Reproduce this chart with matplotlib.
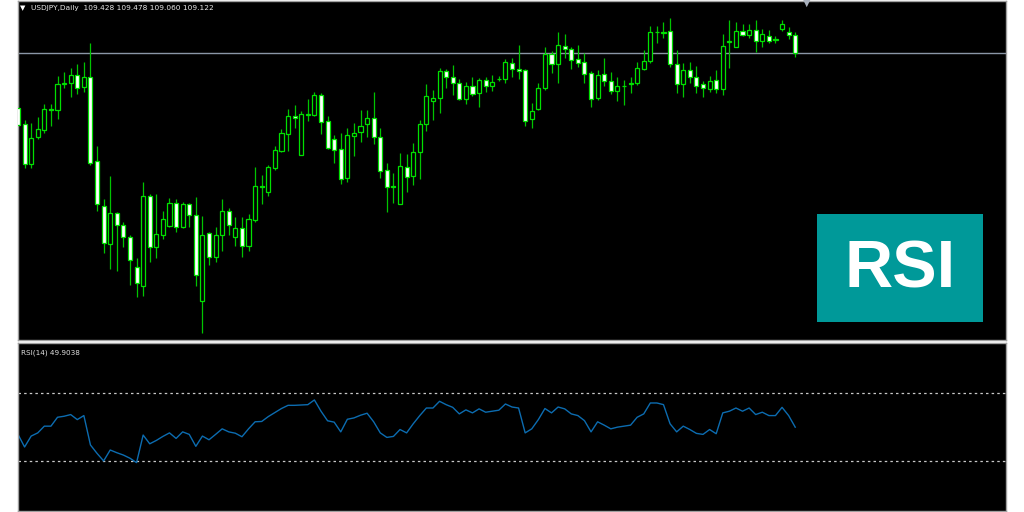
import matplotlib
matplotlib.use("Agg")
import matplotlib.pyplot as plt
from matplotlib.patches import Rectangle

# USDJPY daily candles (oldest -> newest)
opens = [108.21, 107.94, 107.27, 107.73, 107.84, 108.19, 108.17, 108.61, 108.63, 108.76,
         108.56, 108.73, 107.32, 106.57, 105.94, 106.46, 106.26, 106.06, 105.56, 105.25,
         106.74, 105.90, 106.09, 106.24, 106.63, 106.22, 106.61, 106.43, 105.00, 106.13,
         105.72, 106.10, 106.50, 106.06, 106.21, 105.91, 106.34, 106.91, 106.81, 107.21,
         107.50, 107.78, 108.07, 107.43, 108.09, 108.09, 108.43, 107.99, 107.69, 107.52,
         107.04, 107.75, 107.81, 107.94, 108.05, 107.72, 107.17, 106.91, 106.61, 107.23,
         107.07, 107.47, 107.94, 108.32, 108.37, 108.83, 108.73, 108.62, 108.36, 108.58,
         108.46, 108.68, 108.58, 108.69, 108.69, 108.96, 108.86, 108.84, 108.02, 108.19,
         108.54, 109.11, 108.94, 109.25, 109.19, 109.02, 108.97, 108.79, 108.37, 108.77,
         108.66, 108.50, 108.57, 108.61, 108.63, 108.86, 108.99, 109.48, 109.46, 109.49,
         108.94, 108.61, 108.84, 108.73, 108.61, 108.53, 108.67, 108.52, 109.31, 109.22,
         109.49, 109.43, 109.51, 109.33, 109.41, 109.36, 109.52, 109.48, 109.428]
highs = [108.32, 108.01, 107.96, 108.06, 108.27, 108.27, 108.74, 108.81, 108.88, 108.94,
         108.98, 109.29, 107.57, 106.69, 107.08, 106.48, 106.31, 106.09, 105.71, 106.97,
         106.78, 106.78, 106.49, 106.71, 106.69, 106.65, 106.63, 106.73, 106.41, 106.15,
         106.23, 106.69, 106.55, 106.40, 106.39, 106.44, 107.22, 107.10, 107.26, 107.58,
         107.86, 108.19, 108.26, 108.16, 108.36, 108.47, 108.46, 108.08, 107.76, 107.80,
         107.87, 107.96, 108.18, 108.18, 108.47, 107.88, 107.29, 107.12, 107.46, 107.44,
         107.62, 108.01, 108.61, 108.51, 108.88, 108.86, 108.93, 108.69, 108.65, 108.72,
         108.71, 108.73, 108.76, 108.74, 109.02, 109.04, 109.26, 108.86, 108.30, 108.63,
         109.22, 109.16, 109.47, 109.45, 109.23, 109.26, 109.13, 108.83, 108.84, 109.05,
         108.81, 108.72, 108.68, 108.72, 108.97, 109.18, 109.58, 109.58, 109.65, 109.71,
         109.18, 108.96, 108.97, 108.91, 108.66, 108.74, 108.84, 109.44, 109.68, 109.65,
         109.61, 109.61, 109.67, 109.52, 109.51, 109.41, 109.67, 109.56, 109.478]
lows = [107.89, 107.21, 107.21, 107.69, 107.80, 107.91, 108.02, 108.54, 108.40, 108.44,
        108.47, 107.26, 106.50, 105.79, 105.53, 105.50, 105.89, 105.26, 105.06, 105.08,
        105.65, 105.71, 106.02, 106.23, 106.15, 106.21, 106.23, 105.24, 104.46, 105.59,
        105.65, 105.83, 106.10, 105.91, 105.73, 105.83, 106.31, 106.61, 106.74, 107.17,
        107.47, 107.50, 107.88, 107.43, 107.99, 108.07, 107.77, 107.52, 107.30, 106.94,
        106.98, 107.41, 107.64, 107.72, 107.61, 107.04, 106.47, 106.63, 106.61, 106.81,
        106.93, 107.02, 107.83, 108.01, 108.13, 108.55, 108.43, 108.34, 108.27, 108.41,
        108.22, 108.47, 108.49, 108.66, 108.63, 108.72, 108.69, 107.91, 107.87, 108.18,
        108.51, 108.79, 108.62, 109.05, 108.86, 108.90, 108.62, 108.22, 108.34, 108.57,
        108.44, 108.33, 108.26, 108.46, 108.59, 108.84, 108.96, 109.30, 109.37, 108.90,
        108.46, 108.40, 108.62, 108.46, 108.40, 108.48, 108.46, 108.43, 108.88, 109.22,
        109.41, 109.38, 109.15, 109.23, 109.29, 109.30, 109.50, 109.36, 109.060]
closes = [107.93, 107.27, 107.71, 107.86, 108.19, 108.17, 108.61, 108.63, 108.76, 108.55,
          108.73, 107.30, 106.61, 105.96, 106.46, 106.26, 106.06, 105.67, 105.29, 106.74,
          105.90, 106.11, 106.36, 106.63, 106.22, 106.61, 106.43, 105.42, 106.09, 105.72,
          106.10, 106.49, 106.26, 106.21, 105.91, 106.36, 106.91, 106.90, 107.22, 107.51,
          107.79, 108.08, 108.05, 108.11, 108.11, 108.43, 107.97, 107.54, 107.51, 107.03,
          107.76, 107.80, 107.91, 108.05, 107.72, 107.16, 106.89, 106.90, 107.24, 107.06,
          107.47, 107.94, 108.41, 108.37, 108.82, 108.72, 108.62, 108.36, 108.58, 108.44,
          108.68, 108.58, 108.65, 108.70, 108.97, 108.86, 108.83, 108.00, 108.16, 108.54,
          109.11, 108.94, 109.26, 109.19, 109.01, 108.96, 108.78, 108.36, 108.76, 108.66,
          108.50, 108.58, 108.58, 108.62, 108.87, 109.00, 109.48, 109.47, 109.47, 108.94,
          108.61, 108.84, 108.73, 108.57, 108.54, 108.66, 108.52, 109.25, 109.32, 109.49,
          109.43, 109.51, 109.33, 109.44, 109.33, 109.35, 109.61, 109.43, 109.122]

rsi = [45.6, 38.1, 44.6, 46.5, 50.5, 50.5, 55.8, 56.4, 57.4, 54.4,
       56.8, 39.3, 34.3, 29.8, 36.3, 34.7, 33.3, 31.4, 28.8, 45.2,
       40.0, 42.0, 44.4, 46.5, 43.2, 47.1, 45.6, 38.5, 44.6, 42.4,
       45.6, 48.9, 47.1, 46.3, 44.2, 48.9, 53.1, 53.3, 56.2, 58.6,
       61.0, 62.9, 62.9, 63.1, 63.3, 66.1, 59.4, 53.7, 52.9, 47.1,
       54.6, 55.4, 57.0, 58.2, 53.1, 46.5, 43.8, 44.4, 48.5, 46.5,
       51.9, 56.8, 61.3, 61.3, 65.3, 63.3, 61.7, 57.8, 60.2, 58.4,
       60.8, 58.8, 59.4, 60.0, 63.7, 61.9, 61.3, 46.5, 48.9, 54.4,
       61.0, 58.4, 61.9, 60.8, 57.8, 56.8, 53.8, 47.1, 53.1, 51.1,
       48.9, 49.9, 50.5, 51.1, 55.8, 57.8, 64.3, 64.3, 63.3, 51.9,
       47.1, 50.5, 48.5, 46.2, 45.6, 48.5, 46.0, 58.4, 59.4, 61.3,
       59.4, 61.3, 57.4, 58.8, 56.8, 56.8, 61.7, 56.8, 49.9]
rsi_levels = [30, 70]
bid = 109.122

W, H = 1024, 512
fig = plt.figure(figsize=(W / 100, H / 100), dpi=100, facecolor="white")

L, R = 18, 1006
ax = fig.add_axes([L / W, 1 - 340 / H, (R - L) / W, 339 / H])
ax2 = fig.add_axes([L / W, 1 - 511 / H, (R - L) / W, 168 / H])

for a in (ax, ax2):
    a.set_facecolor("black")
    a.set_xticks([])
    a.set_yticks([])
    a.set_xlim(0, 150)
    for s in a.spines.values():
        s.set_color("#a0a0a0")
        s.set_linewidth(1.0)

# candles
idx = list(range(len(opens)))
ax.vlines(idx, lows, highs, color="#00c400", lw=0.9, zorder=2)
bottoms = [min(o, c) for o, c in zip(opens, closes)]
heights = [abs(c - o) for o, c in zip(opens, closes)]
fills = ["white" if c < o else "black" for o, c in zip(opens, closes)]
ax.bar(idx, heights, bottom=bottoms, width=0.62, color=fills,
       edgecolor="#00e000", linewidth=0.9, zorder=3)
ax.axhline(bid, color="#8a96a6", lw=1.0, zorder=1)
ax.set_ylim(104.343, 109.993)

fig.text(20 / W, 1 - 8 / H, "\u25bc", color="white", fontsize=5, va="center")
fig.text(31 / W, 1 - 8 / H, "USDJPY,Daily  109.428 109.478 109.060 109.122",
         color="#e8e8e8", fontsize=5.3, va="center", family="DejaVu Sans")

# RSI badge
ax.add_patch(Rectangle(((817 - L) / (R - L), 18 / 339), 166 / (R - L), 108 / 339,
                       transform=ax.transAxes, facecolor="#009999",
                       edgecolor="none", zorder=5))
ax.text((900 - L) / (R - L), (340 - 271) / 339, "RSI", transform=ax.transAxes,
        color="white", fontsize=48, fontweight="bold", family="Liberation Sans",
        ha="center", va="center", zorder=6)

# chart shift marker
fig.text(807 / W, 1 - 3 / H, "\u25bc", color="#a8b0bc", fontsize=7,
         ha="center", va="center")

# RSI panel
ax2.set_ylim(0, 100)
for lv in rsi_levels:
    ax2.axhline(lv, color="#c8c8c8", lw=0.9, ls=(0, (2, 2.5)))
ax2.plot(idx, rsi, color="#0c6cb0", lw=1.0)
ax2.text(3 / (R - L), 0.96, "RSI(14) 49.9038", transform=ax2.transAxes,
         color="#e0e0e0", fontsize=5.2, va="top", ha="left")

fig.savefig("out.png", dpi=100, facecolor="white")
